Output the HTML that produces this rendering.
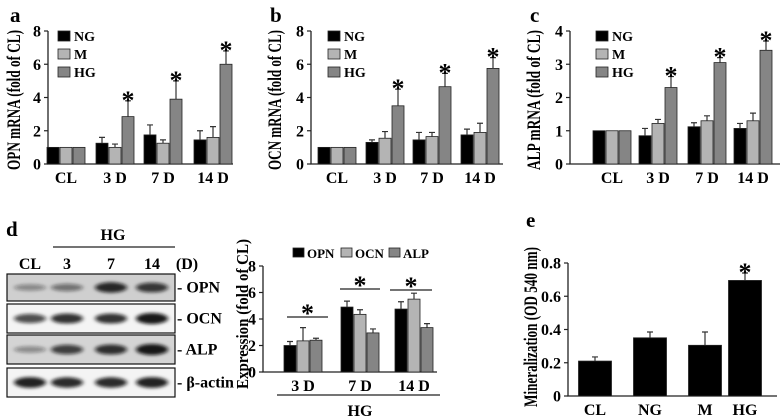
<!DOCTYPE html>
<html><head><meta charset="utf-8">
<style>
html,body{margin:0;padding:0;background:#fff;}
svg{display:block;font-family:"Liberation Serif",serif;font-weight:bold;}
</style></head>
<body>
<svg id="fig" width="784" height="418" viewBox="0 0 784 418" xmlns="http://www.w3.org/2000/svg">
<defs>
<filter id="blur1" x="-50%" y="-100%" width="200%" height="300%"><feGaussianBlur stdDeviation="2.2 1.6"/></filter>
</defs>
</svg>
<script>
// Panel a (OPN mRNA)
const catsABC = ["CL","3 D","7 D","14 D"];
const aNG = [1,1.25,1.75,1.45];
const aM  = [1,1.0,1.25,1.6];
const aHG = [1,2.85,3.9,6.0];
const aNGe = [0,0.35,0.6,0.55];
const aMe  = [0,0.2,0.2,0.65];
const aHGe = [0,0.95,1.1,0.8];
const yTicksAB = [0,2,4,6,8];
// Panel b (OCN mRNA)
const bNG = [1,1.3,1.45,1.75];
const bM  = [1,1.55,1.65,1.9];
const bHG = [1,3.5,4.65,5.75];
const bNGe = [0,0.15,0.45,0.35];
const bMe  = [0,0.4,0.25,0.55];
const bHGe = [0,1.0,0.8,0.65];
// Panel c (ALP mRNA)
const cNG = [1,0.85,1.12,1.07];
const cM  = [1,1.22,1.3,1.3];
const cHG = [1,2.3,3.05,3.42];
const cNGe = [0,0.22,0.12,0.15];
const cMe  = [0,0.12,0.15,0.23];
const cHGe = [0,0.33,0.15,0.28];
const yTicksC = [0,1,2,3,4];
// Panel d (protein expression)
const catsD = ["3 D","7 D","14 D"];
const dOPN = [2.0,4.9,4.75];
const dOCN = [2.35,4.35,5.5];
const dALP = [2.4,2.95,3.35];
const dOPNe = [0.3,0.45,0.55];
const dOCNe = [1.0,0.35,0.45];
const dALPe = [0.15,0.3,0.3];
const yTicksD = [0,2,4,6,8];
// Panel e (mineralization)
const catsE = ["CL","NG","M","HG"];
const eVals = [0.21,0.35,0.305,0.695];
const eErr  = [0.025,0.035,0.08,0.045];
const yTicksE = [0,0.2,0.4,0.6,0.8];
const yTickLabelsE = ["0","0.2","0.4","0.6","0.8"];

const svg = document.getElementById('fig');
const NS = "http://www.w3.org/2000/svg";
function mk(tag, attrs, parent){
  const e = document.createElementNS(NS, tag);
  for (const k in attrs) e.setAttribute(k, attrs[k]);
  (parent||svg).appendChild(e);
  return e;
}
function txt(x,y,s,size,anchor,parent){
  const t = mk('text',{x:x,y:y,'font-size':size,'text-anchor':anchor||'middle'},parent);
  t.textContent = s;
  return t;
}
const COL = {NG:"#000000", M:"#b4b4b4", HG:"#858585"};

function chart(o){
  const g = mk('g',{});
  
  
  const ys = v => o.y0 - (v - 0) / o.ymax * (o.y0 - o.yTop);
  const xs = i => o.centers[i];
  const ax = mk('path',{d:`M${o.x0},${o.yTop} L${o.x0},${o.y0} L${o.xEnd},${o.y0}`,stroke:'#222','stroke-width':1.3,fill:'none'},g);
  
  
  o.ticks.forEach((t,i)=>{
    mk('line',{x1:o.x0-4,x2:o.x0,y1:ys(t),y2:ys(t),stroke:'#222','stroke-width':1.2},g);
    const lab = txt(o.x0-7, ys(t)+5.5, o.tickLabels ? o.tickLabels[i] : String(t), 16, 'end', g);
    
    
  });
  o.cats.forEach((c,i)=>{
    const lab = txt(xs(i), o.y0+19, c, 16, 'middle', g);
    
    
  });
  const yt = txt(0,0,o.ytitle,o.ytSize||19,'middle',g);
  yt.setAttribute('textLength', o.ytLen);
  yt.setAttribute('lengthAdjust', 'spacingAndGlyphs');
  yt.setAttribute('transform',`translate(${o.ytx},${o.yty}) rotate(-90)`);
  
  
  const n = o.series.length, bw = o.bw, gap = o.gap||1;
  o.series.forEach((s,si)=>{
    s.vals.forEach((v,i)=>{
      const cx = xs(i) + (si - (n-1)/2)*(bw+gap);
      const top = ys(v);
      const r = mk('rect',{x:cx-bw/2,y:top,width:bw,height:o.y0-top,fill:s.color,stroke:'#222','stroke-width':0.8},g);
      
      
      const e = s.err[i];
      if (e>0){
        const et = ys(v+e);
        const el = mk('path',{d:`M${cx},${top} L${cx},${et} M${cx-3},${et} L${cx+3},${et}`,stroke:'#333','stroke-width':1.2,fill:'none'},g);
        
        
      }
      if (s.star && s.star[i]){
        const st = txt(cx, ys(v+e)-3, '*', 26, 'middle', g);
        st.setAttribute('dy','11');
        
        
      }
    });
  });
  return {g, ys, xs};
}
function legendV(x,y0,items){
  items.forEach((it,i)=>{
    const y = y0 + i*18;
    const r = mk('rect',{x:x,y:y-9,width:12,height:10,fill:it.c,stroke:'#222','stroke-width':0.8});
    
    
    const t = txt(x+16,y+1,it.l,14,'start');
    
    
  });
}
const stars = [0,1,1,1];
function abc(name,x0,xEnd,centers,ymax,ticks,yt,ytx,NG,M,HG,NGe,Me,HGe){
  chart({name,x0,xEnd,y0:164,yTop:31,ymax,ticks,cats:catsABC,centers,bw:12,ytitle:yt,ytx,yty:100,ytLen:140,
    series:[{key:'ng',color:COL.NG,vals:NG,err:NGe},{key:'m',color:COL.M,vals:M,err:Me},{key:'hg',color:COL.HG,vals:HG,err:HGe,star:stars}]});
}
abc('chart-a-opn',48,233,[66,115,163,213],8,yTicksAB,'OPN mRNA (fold of CL)',20,aNG,aM,aHG,aNGe,aMe,aHGe);
abc('chart-b-ocn',311,503,[337,385,432,480],8,yTicksAB,'OCN mRNA (fold of CL)',281,bNG,bM,bHG,bNGe,bMe,bHGe);
abc('chart-c-alp',570,780,[612,658,707,753],4,yTicksC,'ALP mRNA (fold of CL)',540,cNG,cM,cHG,cNGe,cMe,cHGe);
const LEG = [{c:COL.NG,l:'NG'},{c:COL.M,l:'M'},{c:COL.HG,l:'HG'}];
legendV(58,40,LEG); legendV(328,40,LEG); legendV(596,40,LEG);

[['a',10,22],['b',270,22],['c',530,22],['d',6,236],['e',526,227]].forEach(p=>{
  const t = txt(p[1],p[2],p[0],21,'start');
  
  
});

chart({name:'chart-d-expression',x0:263,xEnd:437,y0:372,yTop:266,ymax:8,ticks:yTicksD,cats:catsD,centers:[303,360,414],bw:12,
  ytitle:'Expression  (fold of CL)',ytx:248,yty:314,ytLen:150,ytSize:17,
  series:[{key:'opn',color:COL.NG,vals:dOPN,err:dOPNe},{key:'ocn',color:COL.M,vals:dOCN,err:dOCNe},{key:'alp',color:COL.HG,vals:dALP,err:dALPe}]});
[[287,328,317],[340,380,289],[390,432,290]].forEach(s=>{
  const l = mk('line',{x1:s[0],x2:s[1],y1:s[2],y2:s[2],stroke:'#222','stroke-width':1.2});
  
  
  const t = txt((s[0]+s[1])/2, s[2]-4, '*', 26, 'middle');
  t.setAttribute('dy','9');
  
  
});
[[293,COL.NG,'OPN'],[341,COL.M,'OCN'],[389,COL.HG,'ALP']].forEach(l=>{
  const r = mk('rect',{x:l[0],y:248,width:11,height:9,fill:l[1],stroke:'#222','stroke-width':0.8});
  
  
  const t = txt(l[0]+14,258,l[2],13,'start');
  
  
});
const hgl = mk('line',{x1:277,x2:440,y1:395,y2:395,stroke:'#222','stroke-width':1.2});


const hgt = txt(360,416,'HG',16,'middle');



const lanes = [30,67,111,152];
const laneLabels = ['CL','3','7','14'];
laneLabels.forEach((s,i)=>{
  const t = txt(lanes[i],269,s,16,'middle');
  
  
});
const dl = txt(187,269,'(D)',16,'middle');


const bhg = txt(113,240,'HG',16,'middle');


const bl = mk('line',{x1:53,x2:175,y1:247,y2:247,stroke:'#222','stroke-width':1.2});


const blots = [
  {n:'OPN',y:274,h:27,bg:'#cfcfcf',w:[0.25,0.4,0.9,0.8]},
  {n:'OCN',y:304,h:29,bg:'#f4f4f4',w:[0.7,0.85,0.85,1]},
  {n:'ALP',y:335,h:29,bg:'#d4d4d4',w:[0.25,0.75,0.85,1]},
  {n:'β-actin',y:368,h:29,bg:'#f4f4f4',w:[0.95,0.9,0.9,0.95]}
];
blots.forEach(b=>{
  const g = mk('g',{});
  
  
  mk('rect',{x:7,y:b.y,width:168,height:b.h,fill:b.bg,stroke:'#111','stroke-width':1.2},g);
  b.w.forEach((w,i)=>{
    const band = mk('ellipse',{cx:lanes[i],cy:b.y+b.h/2,rx:16,ry:2.5+3*w,fill:'#111','fill-opacity':0.2+0.75*w,filter:'url(#blur1)'},g);
    
    
  });
  const t = txt(177,b.y+b.h/2+5,'- '+b.n,16,'start',g);
  
  
});

chart({name:'chart-e-mineralization',x0:568,xEnd:777,y0:396,yTop:263,ymax:0.8,ticks:yTicksE,tickLabels:yTickLabelsE,cats:catsE,
  centers:[595,650,705,745],bw:33,ytitle:'Mineralization (OD 540 nm)',ytx:537,yty:327,ytLen:160,
  series:[{key:'e',color:'#000',vals:eVals,err:eErr,star:[0,0,0,1]}]});
</script>
</body></html>
